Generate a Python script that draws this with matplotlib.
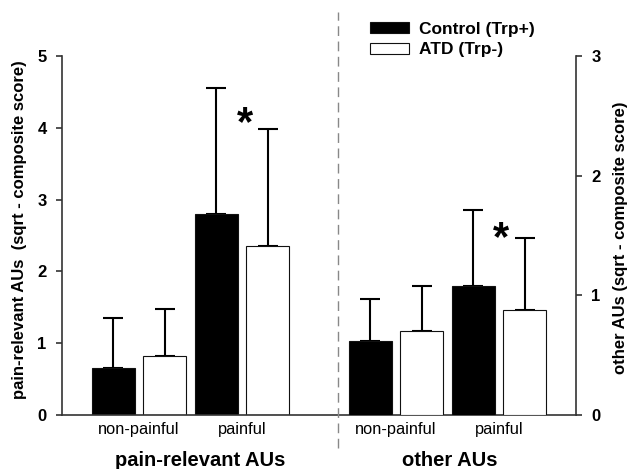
import matplotlib
matplotlib.use("Agg")
import matplotlib.pyplot as plt
from matplotlib.lines import Line2D
from matplotlib.patches import Patch

plt.rcParams['font.family'] = ['Liberation Sans', 'DejaVu Sans']

# ---- data ----
conditions = ["non-painful", "painful"]
groups = ["pain-relevant AUs", "other AUs"]
series = ["Control (Trp+)", "ATD (Trp-)"]
pain_control = [0.65, 2.80]
pain_control_sd = [0.70, 1.76]
pain_atd = [0.82, 2.36]
pain_atd_sd = [0.65, 1.63]
other_control = [0.62, 1.08]
other_control_sd = [0.35, 0.63]
other_atd = [0.70, 0.88]
other_atd_sd = [0.38, 0.60]
left_ticks = [0, 1, 2, 3, 4, 5]
right_ticks = [0, 1, 2, 3]

W, H = 630, 469
fig = plt.figure(figsize=(W / 100, H / 100), dpi=100)
ax = fig.add_axes([62 / W, 1 - 415 / H, (576 - 62) / W, (415 - 56) / H])
ax2 = ax.twinx()

bw = 0.84
lw_err = 1.5
cap = 7
edge = "#111111"

left_x_c = [1, 3]
left_x_a = [2, 4]
right_x_c = [6, 8]
right_x_a = [7, 9]

ax.bar(left_x_c, pain_control, width=bw, color="black", edgecolor=edge, linewidth=0.8, zorder=2)
ax.bar(left_x_a, pain_atd, width=bw, color="white", edgecolor=edge, linewidth=0.8, zorder=2)
ax.errorbar(left_x_c, pain_control, yerr=[[0, 0], pain_control_sd], fmt="none",
            ecolor="black", elinewidth=lw_err, capsize=cap, capthick=lw_err, zorder=1)
ax.errorbar(left_x_a, pain_atd, yerr=[[0, 0], pain_atd_sd], fmt="none",
            ecolor="black", elinewidth=lw_err, capsize=cap, capthick=lw_err, zorder=1)

ax2.bar(right_x_c, other_control, width=bw, color="black", edgecolor=edge, linewidth=0.8, zorder=2)
ax2.bar(right_x_a, other_atd, width=bw, color="white", edgecolor=edge, linewidth=0.8, zorder=2)
ax2.errorbar(right_x_c, other_control, yerr=[[0, 0], other_control_sd], fmt="none",
             ecolor="black", elinewidth=lw_err, capsize=cap, capthick=lw_err, zorder=1)
ax2.errorbar(right_x_a, other_atd, yerr=[[0, 0], other_atd_sd], fmt="none",
             ecolor="black", elinewidth=lw_err, capsize=cap, capthick=lw_err, zorder=1)

ax.set_xlim(0, 10)
ax.set_ylim(0, 5)
ax2.set_ylim(0, 3)
ax.set_yticks(left_ticks)
ax2.set_yticks(right_ticks)

for a in (ax, ax2):
    a.spines["top"].set_visible(False)
    for s in a.spines.values():
        s.set_linewidth(1.2)
        s.set_color("#333333")
ax.spines["right"].set_visible(False)
ax2.spines["left"].set_visible(False)
ax2.spines["bottom"].set_visible(False)

ax.tick_params(axis="y", direction="out", length=4, width=1.2, color="#333333",
               labelsize=12, pad=7)
ax2.tick_params(axis="y", direction="out", length=4, width=1.2, color="#333333",
                labelsize=12, pad=7)
for lab in ax.get_yticklabels() + ax2.get_yticklabels():
    lab.set_fontweight("bold")

ax.set_xticks([1.5, 3.5, 6.5, 8.5])
ax.set_xticklabels(conditions + conditions, fontsize=11.8)
ax.tick_params(axis="x", length=0, pad=5)

ax.set_ylabel("pain-relevant AUs  (sqrt - composite score)", fontsize=12,
              fontweight="bold")
ax2.set_ylabel("other AUs (sqrt - composite score)", fontsize=12,
               fontweight="bold")
ax.yaxis.set_label_coords((27 - 62) / 514, 0.515)
ax2.yaxis.set_label_coords((613 - 62) / 514, 0.495)

# asterisks
ax.text(3.57, 4.05, "*", fontsize=30, fontweight="bold", ha="center", va="center")
ax2.text(8.55, 1.47, "*", fontsize=30, fontweight="bold", ha="center", va="center")

# group titles
fig.text(200 / W, 1 - 466 / H, groups[0], fontsize=14.5, fontweight="bold",
         ha="center", va="baseline")
fig.text(450 / W, 1 - 466 / H, groups[1], fontsize=14.5, fontweight="bold",
         ha="center", va="baseline")

# dashed divider
fig.add_artist(Line2D([338 / W, 338 / W], [1 - 448 / H, 1 - 12 / H],
                      transform=fig.transFigure, color="#888888",
                      linestyle=(0, (7, 4)), linewidth=1.0))

# legend
handles = [Patch(facecolor="black", edgecolor=edge, linewidth=0.8),
           Patch(facecolor="white", edgecolor=edge, linewidth=0.8)]
leg = fig.legend(handles, series, loc="upper left",
                 bbox_to_anchor=(370 / W, 1 - 22 / H), frameon=False,
                 prop={"weight": "bold", "size": 12.5}, handlelength=2.25,
                 handleheight=0.6, handletextpad=0.6, labelspacing=0.3,
                 borderaxespad=0, borderpad=0)

fig.savefig("out.png", dpi=100)
